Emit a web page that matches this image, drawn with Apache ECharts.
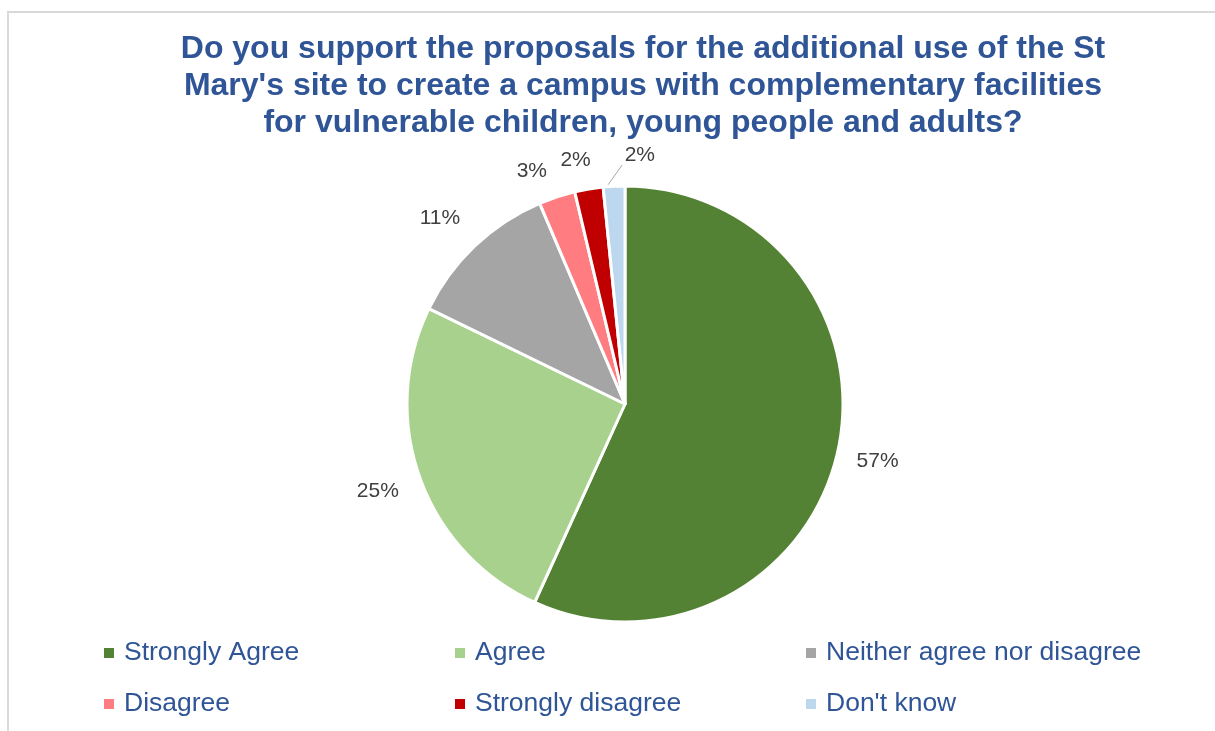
<!DOCTYPE html>
<html>
<head>
<meta charset="utf-8">
<script src="https://cdn.jsdelivr.net/npm/echarts@6/dist/echarts.min.js"></script>
<style>
html,body{margin:0;padding:0;background:#fff;}
#chart{width:1215px;height:731px;}
</style>
</head>
<body>
<div id="chart"></div>
<script>
// ---- data ----
const titleText = "Do you support the proposals for the additional use of the St\nMary's site to create a campus with complementary facilities\nfor vulnerable children, young people and adults?";
const categories = ["Strongly Agree", "Agree", "Neither agree nor disagree", "Disagree", "Strongly disagree", "Don't know"];
const values = [56.8, 25.4, 11.4, 2.7, 2.1, 1.6];
const colors = ["#548235", "#A9D18E", "#A5A5A5", "#FF7C80", "#C00000", "#BDD7EE"];

// ---- layout (not data) ----
const CX = 625, CY = 404, R = 218;
const labelShift = [0.5, 0.4, -1.4, -3.6, -1.9, 6.3];   // degrees relative to slice mid-angle
const labelDist = [259, 262, 262, 251, 249, 249];
const withLeader = [false, false, false, false, false, true];

const total = values.reduce((a, b) => a + b, 0);
const midAngles = [];
let cum = 0;
values.forEach(v => { midAngles.push((cum + v / 2) / total * 360); cum += v; });
function polar(angDeg, dist) {
  const a = angDeg * Math.PI / 180;
  return [CX + Math.sin(a) * dist, CY - Math.cos(a) * dist];
}

const chart = echarts.init(document.getElementById('chart'), null, {renderer: 'canvas'});
chart.setOption({
  animation: false,
  backgroundColor: '#ffffff',
  title: {
    text: titleText,
    left: 643,
    top: 0,
    padding: [31, 0, 0, 0],
    textAlign: 'center',
    textStyle: {
      fontFamily: 'Liberation Sans, Arial, sans-serif',
      fontWeight: 'bold',
      fontSize: 32,
      lineHeight: 37,
      color: '#2F5597'
    }
  },
  graphic: [{
    type: 'rect',
    silent: true,
    shape: {x: 8, y: 12, width: 1400, height: 900},
    style: {fill: 'none', stroke: '#D9D9D9', lineWidth: 2}
  }],
  legend: {
    data: categories,
    left: 102,
    top: 638,
    width: 1040,
    padding: 0,
    orient: 'horizontal',
    itemWidth: 12,
    itemHeight: 12,
    itemGap: 21,
    icon: 'rect',
    textStyle: {
      fontFamily: 'Liberation Sans, Arial, sans-serif',
      fontSize: 26.5,
      color: '#2F5597',
      width: 308,
      lineHeight: 30,
      padding: [0, 0, 0, 4]
    }
  },
  series: [{
    type: 'pie',
    center: [CX, CY],
    radius: R,
    startAngle: 90,
    clockwise: true,
    avoidLabelOverlap: false,
    emphasis: {disabled: true},
    itemStyle: {borderColor: '#ffffff', borderWidth: 3},
    label: {
      show: true,
      position: 'outside',
      fontFamily: 'Liberation Sans, Arial, sans-serif',
      fontSize: 21,
      color: '#404040',
      formatter: p => Math.round(p.percent) + '%'
    },
    labelLine: {show: true, length: 5, length2: 5, lineStyle: {color: '#A6A6A6', width: 1}},
    labelLayout: function (params) {
      const i = params.dataIndex;
      const ang = midAngles[i] + labelShift[i];
      const p = polar(ang, labelDist[i]);
      const out = {x: p[0], y: p[1], align: 'center', verticalAlign: 'middle'};
      if (withLeader[i]) {
        const s = polar(midAngles[i] - 1.5, R + 2);
        const e = polar(ang - 4.1, labelDist[i] - 10);
        out.labelLinePoints = [s, e, e];
      }
      return out;
    },
    data: categories.map((c, i) => ({
      name: c,
      value: values[i],
      itemStyle: {color: colors[i]},
      labelLine: {show: withLeader[i]}
    }))
  }]
});
</script>
</body>
</html>
